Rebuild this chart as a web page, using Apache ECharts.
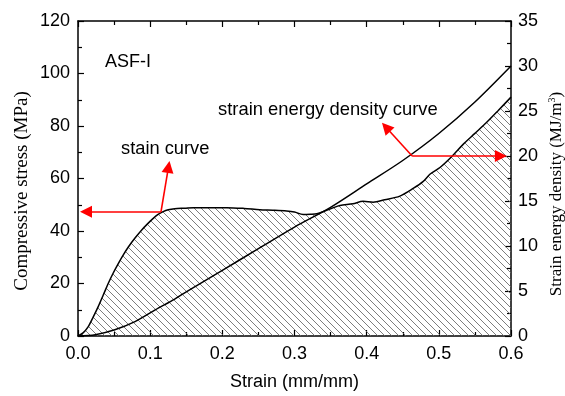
<!DOCTYPE html>
<html>
<head>
<meta charset="utf-8">
<script src="https://cdn.jsdelivr.net/npm/echarts@6/dist/echarts.min.js"></script>
<style>html,body{margin:0;padding:0;background:#fff}#c{width:565px;height:396px}</style>
</head>
<body>
<div id="c"></div>
<script>
// ---- data ----
var stressStrain = [0, 0.007, 0.014, 0.021, 0.028, 0.035, 0.042, 0.049, 0.056, 0.063, 0.070, 0.079, 0.088, 0.097, 0.105, 0.111, 0.118, 0.125, 0.134, 0.148, 0.16, 0.18, 0.206, 0.23, 0.252, 0.27, 0.289, 0.30, 0.312, 0.322, 0.331, 0.342, 0.354, 0.363, 0.381, 0.395, 0.409, 0.425, 0.446, 0.465, 0.478, 0.488, 0.502, 0.518, 0.534, 0.55, 0.566, 0.582, 0.6];
var stressValues = [0, 1.2, 3.5, 7.2, 11.2, 15.6, 20.1, 24.1, 27.7, 31.0, 34.0, 37.3, 40.3, 42.9, 45.0, 46.3, 47.4, 48.1, 48.5, 48.7, 48.9, 48.9, 48.9, 48.6, 48.1, 47.9, 47.6, 47.2, 46.3, 46.4, 46.6, 47.6, 48.9, 49.7, 50.4, 51.3, 51.0, 51.9, 53.3, 56.3, 58.8, 61.7, 64.3, 68.4, 73.1, 77.2, 81.3, 85.8, 91.0];
var energyStrain = [0, 0.024, 0.051, 0.079, 0.107, 0.134, 0.15, 0.2, 0.25, 0.3, 0.35, 0.4, 0.45, 0.5, 0.55, 0.6];
var energyValues = [0, 0.15, 0.7, 1.6, 2.9, 4.1, 4.9, 7.3, 9.7, 12.1, 14.3, 16.9, 19.5, 22.5, 26.0, 30.0];
var xTicks = [0, 0.1, 0.2, 0.3, 0.4, 0.5, 0.6];
var stressTicks = [0, 20, 40, 60, 80, 100, 120];
var energyTicks = [0, 5, 10, 15, 20, 25, 30, 35];
// annotation arrows (data coordinates; arrow-head centres at the end points)
var stressArrowFrom = [0.115, 47.3];
var stressArrowLeft = [0.0111, 47.3];
var stressArrowUp = [0.1254, 64.4];
var energyArrowFrom = [0.463, 20.0];
var energyArrowUp = [0.4268, 23.2];
var energyArrowRight = [0.586, 20.0];

function pairs(xs, ys) { return xs.map(function (x, i) { return [x, ys[i]]; }); }

// hatch pattern
var tile = document.createElement('canvas');
tile.width = 7; tile.height = 7;
var g = tile.getContext('2d');
g.strokeStyle = '#666';
g.lineWidth = 0.85;
g.beginPath();
g.moveTo(-1, -1); g.lineTo(8, 8);
g.moveTo(6, -1); g.lineTo(8, 1);
g.moveTo(-1, 6); g.lineTo(1, 8);
g.stroke();

var SANS = '"Liberation Sans", Arial, sans-serif';
var SERIF = '"Liberation Serif", "Times New Roman", serif';
var tickFont = 18;

var chart = echarts.init(document.getElementById('c'), null, {renderer: 'canvas'});
var axisLine = {show: true, onZero: false, lineStyle: {color: '#000', width: 1.5}};
var axisTick = {show: true, inside: true, length: 6, lineStyle: {color: '#000', width: 1.2}};
var minorTick = {show: true, splitNumber: 2, length: 4, lineStyle: {color: '#000', width: 1.2}};

chart.setOption({
  animation: false,
  grid: {left: 78, right: 54, top: 21, bottom: 58, containLabel: false},
  xAxis: [{
    type: 'value', min: 0, max: 0.6, interval: 0.1, position: 'bottom',
    axisLine: axisLine, axisTick: axisTick, minorTick: minorTick, splitLine: {show: false},
    axisLabel: {color: '#000', fontSize: tickFont, fontFamily: SANS, margin: 9,
      formatter: function (v) { return v.toFixed(1); }},
    name: 'Strain (mm/mm)', nameLocation: 'middle', nameGap: 37,
    nameTextStyle: {color: '#000', fontSize: 18, fontFamily: SANS}
  }, {
    type: 'value', min: 0, max: 0.6, interval: 0.1, position: 'top',
    axisLine: axisLine, axisTick: axisTick, minorTick: minorTick, splitLine: {show: false},
    axisLabel: {show: false}
  }],
  yAxis: [{
    type: 'value', min: 0, max: 120, interval: 20, position: 'left',
    axisLine: axisLine, axisTick: axisTick, minorTick: minorTick, splitLine: {show: false},
    axisLabel: {color: '#000', fontSize: tickFont, fontFamily: SANS, margin: 8}
  }, {
    type: 'value', min: 0, max: 35, interval: 5, position: 'right',
    axisLine: axisLine, axisTick: axisTick, minorTick: minorTick, splitLine: {show: false},
    axisLabel: {color: '#000', fontSize: tickFont, fontFamily: SANS, margin: 7}
  }],
  series: [{
    name: 'stress', type: 'line', xAxisIndex: 0, yAxisIndex: 0,
    data: pairs(stressStrain, stressValues), smooth: 0.3, showSymbol: false, symbol: 'none',
    lineStyle: {color: '#000', width: 1.5},
    areaStyle: {color: {image: tile, repeat: 'repeat'}, opacity: 1},
    markLine: {
      silent: true, symbol: ['none', 'triangle'], symbolSize: 12,
      label: {show: false},
      lineStyle: {color: '#ff0000', width: 1.6, type: 'solid'},
      itemStyle: {color: '#ff0000'},
      data: [
        [{coord: stressArrowFrom}, {coord: stressArrowLeft}],
        [{coord: stressArrowFrom}, {coord: stressArrowUp}]
      ]
    },
    z: 2
  }, {
    name: 'energy', type: 'line', xAxisIndex: 0, yAxisIndex: 1,
    data: pairs(energyStrain, energyValues), smooth: 0.3, showSymbol: false, symbol: 'none',
    lineStyle: {color: '#000', width: 1.5},
    markLine: {
      silent: true, symbol: ['none', 'triangle'], symbolSize: 12,
      label: {show: false},
      lineStyle: {color: '#ff0000', width: 1.6, type: 'solid'},
      itemStyle: {color: '#ff0000'},
      data: [
        [{coord: energyArrowFrom}, {coord: energyArrowUp}],
        [{coord: energyArrowFrom}, {coord: energyArrowRight}]
      ]
    },
    z: 3
  }],
  graphic: [
    {type: 'text', x: 105, y: 62, style: {text: 'ASF-I', font: '18px ' + SANS, fill: '#000', verticalAlign: 'middle'}},
    {type: 'text', x: 121, y: 149, style: {text: 'stain curve', font: '18.3px ' + SANS, fill: '#000', verticalAlign: 'middle'}},
    {type: 'text', x: 218, y: 110, style: {text: 'strain energy density curve', font: '18.4px ' + SANS, fill: '#000', verticalAlign: 'middle'}},
    {type: 'text', x: 22, y: 191, rotation: Math.PI / 2,
      style: {text: 'Compressive stress (MPa)', font: '19px ' + SERIF, fill: '#000', align: 'center', verticalAlign: 'middle'}},
    {type: 'text', x: 557, y: 194, rotation: Math.PI / 2,
      style: {text: '{n|Strain energy density (MJ/m}{s|3}{n|)}', fill: '#000', align: 'center', verticalAlign: 'middle',
        rich: {n: {fontSize: 17, fontFamily: SERIF, lineHeight: 20, fill: '#000'},
               s: {fontSize: 10, fontFamily: SERIF, lineHeight: 20, verticalAlign: 'top', fill: '#000'}}}}
  ]
});
</script>
</body>
</html>
